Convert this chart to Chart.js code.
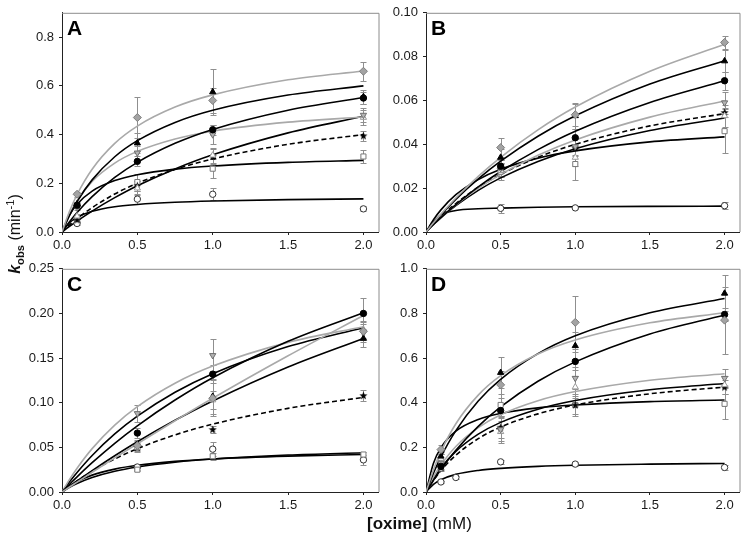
<!DOCTYPE html>
<html>
<head>
<meta charset="utf-8">
<script src="https://cdn.jsdelivr.net/npm/chart.js@4.4.1/dist/chart.umd.min.js"></script>
<style>
  body { margin:0; background:#fff; font-family:"Liberation Sans", Arial, sans-serif; }
  #wrap { position:relative; width:745px; height:541px; overflow:hidden; }
  canvas { position:absolute; }
  #ytitle { position:absolute; left:-50px; top:224px; width:120px; height:20px; line-height:20px;
            text-align:center; font-size:16px; color:#111; transform:rotate(-90deg); white-space:nowrap; }
  #ytitle sub, #ytitle sup { font-size:70%; }
  #xtitle { position:absolute; left:367px; top:514px; font-size:17px; color:#111; white-space:nowrap; }
</style>
</head>
<body>
<div id="wrap">
  <canvas id="cA" width="384" height="260" style="left:0;top:0"></canvas>
  <canvas id="cB" width="381" height="260" style="left:364px;top:0"></canvas>
  <canvas id="cC" width="384" height="285" style="left:0;top:256px"></canvas>
  <canvas id="cD" width="381" height="285" style="left:364px;top:256px"></canvas>
  <div id="ytitle"><b><i>k</i><sub>obs</sub></b> (min<sup>-1</sup>)</div>
  <div id="xtitle"><b>[oxime]</b> (mM)</div>
</div>
<script>
// x positions of the fitted curves
var xFit = [0, 0.05, 0.1, 0.2, 0.35, 0.5, 0.75, 1, 1.5, 2];
var xTicks = [0, 0.5, 1, 1.5, 2];

// series order: diamond, triangle, circle, inverted triangle, open triangle, star, open square, open circle

// panel A
var curvesA = [
  [0,0.085,0.154,0.258,0.364,0.435,0.513,0.563,0.625,0.661],
  [0,0.068,0.125,0.214,0.309,0.375,0.45,0.5,0.5625,0.6],
  [0,0.042,0.08,0.145,0.224,0.286,0.364,0.421,0.5,0.552],
  [0,0.072,0.128,0.208,0.283,0.331,0.382,0.414,0.451,0.472],
  [0,0.023,0.045,0.086,0.141,0.19,0.259,0.317,0.407,0.475],
  [0,0.029,0.055,0.1,0.156,0.2,0.257,0.3,0.36,0.4],
  [0,0.07,0.114,0.168,0.211,0.235,0.258,0.271,0.286,0.294],
  [0,0.038,0.06,0.085,0.104,0.113,0.122,0.127,0.133,0.136]
];
var xA = [0.1, 0.5, 1, 2];
var markA = [
  [0.155,0.47,0.54,0.66],
  [0.115,0.365,0.575,0.555],
  [0.11,0.29,0.42,0.55],
  [0.10,0.325,0.40,0.48],
  [0.065,0.18,0.315,0.47],
  [0.05,0.19,0.31,0.395],
  [0.055,0.205,0.26,0.31],
  [0.035,0.135,0.155,0.095]
];
var errA = [
  [0.01,0.085,0.05,0.04],
  [0.01,0.04,0.095,0.03],
  [0.01,0.02,0.02,0.025],
  [0.01,0.03,0.04,0.03],
  [0.01,0.03,0.03,0.03],
  [0.01,0.02,0.03,0.02],
  [0.01,0.035,0.04,0.025],
  [0.005,0.02,0.025,0.01]
];

// panel B
var curvesB = [
  [0,0.0042,0.0081,0.0155,0.0254,0.0341,0.0466,0.057,0.0733,0.0856],
  [0,0.0040,0.0078,0.0149,0.0242,0.0323,0.0437,0.053,0.0675,0.0781],
  [0,0.0034,0.0066,0.0125,0.0206,0.0276,0.0376,0.046,0.0591,0.069],
  [0,0.0034,0.0066,0.0124,0.0199,0.0263,0.035,0.042,0.0524,0.0598],
  [0,0.0034,0.0065,0.012,0.019,0.0247,0.0322,0.038,0.0463,0.052],
  [0,0.0037,0.0071,0.013,0.0204,0.0263,0.0341,0.04,0.0484,0.054],
  [0,0.0056,0.0101,0.017,0.0239,0.0286,0.0337,0.037,0.0411,0.0434],
  [0,0.0045,0.0078,0.0098,0.0106,0.0109,0.0113,0.0115,0.0117,0.0118]
];
var xB = [0.5, 1, 2];
var markB = [
  [0.0385,0.0535,0.0865],
  [0.034,0.053,0.078],
  [0.030,0.043,0.069],
  [0.029,0.039,0.059],
  [0.028,0.034,0.053],
  [0.0285,0.0385,0.0545],
  [0.0275,0.031,0.046],
  [0.0108,0.011,0.012]
];
var errB = [
  [0.0045,0.005,0.003],
  [0.004,0.006,0.005],
  [0.003,0.004,0.004],
  [0.004,0.004,0.005],
  [0.003,0.004,0.005],
  [0.003,0.004,0.002],
  [0.004,0.0075,0.01],
  [0.002,0.0007,0.0017]
];

// panel C
var curvesC = [
  [0,0.0056,0.0111,0.0221,0.0382,0.0541,0.0798,0.105,0.1526,0.1977],
  [0,0.0062,0.0123,0.024,0.0406,0.0563,0.0803,0.102,0.14,0.172],
  [0,0.0087,0.017,0.0328,0.0545,0.0741,0.103,0.128,0.1688,0.2009],
  [0,0.0141,0.0267,0.0486,0.0749,0.0956,0.1218,0.141,0.1676,0.1851],
  [0,0.0114,0.0219,0.0409,0.065,0.0849,0.1117,0.1325,0.1629,0.184],
  [0,0.0065,0.0125,0.0233,0.0371,0.0485,0.064,0.076,0.0937,0.106],
  [0,0.0067,0.0118,0.0189,0.0256,0.0299,0.0343,0.037,0.0402,0.042],
  [0,0.0053,0.0096,0.0163,0.0233,0.028,0.0334,0.037,0.0414,0.044]
];
var xC = [0.5, 1, 2];
var markC = [
  [0.052,0.105,0.180],
  [0.053,0.107,0.172],
  [0.066,0.132,0.200],
  [0.088,0.153,0.178],
  [0.05,0.103,0.182],
  [0.05,0.07,0.108],
  [0.025,0.040,0.042],
  [0.028,0.048,0.036]
];
var errC = [
  [0.005,0.02,0.01],
  [0.005,0.02,0.01],
  [0.006,0.01,0.017],
  [0.01,0.018,0.01],
  [0.005,0.01,0.01],
  [0.004,0.004,0.006],
  [0.002,0.004,0.003],
  [0.003,0.008,0.006]
];

// panel D
var curvesD = [
  [0,0.1,0.181,0.306,0.434,0.521,0.618,0.681,0.758,0.803],
  [0,0.084,0.157,0.275,0.408,0.505,0.62,0.7,0.803,0.867],
  [0,0.0527,0.101,0.187,0.294,0.381,0.496,0.583,0.708,0.793],
  [0,0.067,0.121,0.204,0.288,0.346,0.409,0.45,0.501,0.53],
  [0,0.059,0.108,0.182,0.259,0.312,0.371,0.41,0.458,0.486],
  [0,0.052,0.096,0.165,0.239,0.291,0.35,0.39,0.44,0.47],
  [0,0.129,0.199,0.273,0.325,0.352,0.377,0.39,0.405,0.412],
  [0,0.0345,0.0552,0.0789,0.0966,0.106,0.115,0.12,0.125,0.128]
];
var xD = [0.1, 0.2, 0.5, 1, 2];
var markD = [
  [0.19,null,0.48,0.76,0.77],
  [0.16,null,0.535,0.655,0.89],
  [0.115,null,0.365,0.585,0.795],
  [0.13,null,0.28,0.51,0.51],
  [0.15,null,0.27,0.47,0.48],
  [0.11,null,0.29,0.39,0.47],
  [0.105,null,0.39,0.39,0.395],
  [0.045,0.065,0.135,0.125,0.11]
];
var errD = [
  [0.02,0,0.06,0.12,0.15],
  [0.02,0,0.07,0.06,0.08],
  [0.01,0,0.03,0.04,0.03],
  [0.01,0,0.05,0.05,0.04],
  [0.02,0,0.05,0.05,0.04],
  [0.01,0,0.05,0.05,0.03],
  [0.01,0,0.05,0.04,0.07],
  [0.005,0.005,0.01,0.01,0.01]
];

var FONT = '"Liberation Sans", Arial, sans-serif';

function starImg() {
  var c = document.createElement('canvas');
  c.width = c.height = 9;
  var g = c.getContext('2d');
  g.beginPath();
  for (var i = 0; i < 10; i++) {
    var r = i % 2 ? 1.8 : 4.3;
    var a = -Math.PI / 2 + i * Math.PI / 5;
    g.lineTo(4.5 + r * Math.cos(a), 4.8 + r * Math.sin(a));
  }
  g.closePath();
  g.fillStyle = '#000';
  g.fill();
  return c;
}
var STAR = starImg();

// look of each series: curve colour / dash, marker shape
var curveColor = ['#a9a9a9','#000','#000','#a9a9a9','#000','#000','#000','#000'];
var curveDash = [[],[],[],[],[],[5,3],[],[]];
var markStyle = [
  {ps:'rectRot', r:4, bg:'#a3a3a3', bc:'#7d7d7d', rot:0},
  {ps:'triangle', r:3.6, bg:'#000', bc:'#000', rot:0},
  {ps:'circle', r:3.2, bg:'#000', bc:'#000', rot:0},
  {ps:'triangle', r:3.6, bg:'#b3b3b3', bc:'#6e6e6e', rot:180},
  {ps:'triangle', r:3.6, bg:'#fff', bc:'#9a9a9a', rot:0},
  {ps:STAR, r:4.5, bg:'#000', bc:'#000', rot:0},
  {ps:'rect', r:3.6, bg:'#fff', bc:'#777', rot:0},
  {ps:'circle', r:3.2, bg:'#fff', bc:'#333', rot:0}
];

var errPlugin = {
  id: 'errbars',
  beforeDatasetsDraw: function(chart) {
    var ctx = chart.ctx, xs = chart.scales.x, ys = chart.scales.y;
    ctx.save();
    ctx.strokeStyle = '#8f8f8f';
    ctx.lineWidth = 1;
    chart.data.datasets.forEach(function(ds) {
      if (!ds.errs) return;
      ds.data.forEach(function(p, i) {
        var e = ds.errs[i];
        if (p.y == null || !e) return;
        var px = Math.round(xs.getPixelForValue(p.x)) + 0.5;
        var y1 = Math.round(ys.getPixelForValue(p.y + e)) + 0.5;
        var y2 = Math.round(ys.getPixelForValue(p.y - e)) + 0.5;
        ctx.beginPath();
        ctx.moveTo(px, y1); ctx.lineTo(px, y2);
        ctx.moveTo(px - 3, y1); ctx.lineTo(px + 3, y1);
        ctx.moveTo(px - 3, y2); ctx.lineTo(px + 3, y2);
        ctx.stroke();
      });
    });
    ctx.restore();
  }
};

var framePlugin = {
  id: 'frame',
  afterDraw: function(chart) {
    var a = chart.chartArea, ctx = chart.ctx;
    ctx.save();
    ctx.strokeStyle = '#8c8c8c';
    ctx.lineWidth = 1;
    ctx.beginPath();
    ctx.moveTo(a.left, a.top + 0.5); ctx.lineTo(a.right + 0.5, a.top + 0.5);
    ctx.lineTo(a.right + 0.5, a.bottom);
    ctx.stroke();
    ctx.fillStyle = '#000';
    ctx.font = 'bold 21px ' + FONT;
    ctx.textBaseline = 'alphabetic';
    ctx.fillText(chart.options.plugins.frame.letter, a.left + 5, a.top + 22);
    ctx.restore();
  }
};

function makePanel(id, letter, curves, xs, marks, errs, yMax, yTicks, yDec, padTop, xH) {
  var datasets = [];
  marks.forEach(function(ys, k) {
    var st = markStyle[k];
    datasets.push({
      data: xs.map(function(x, i) { return {x: x, y: ys[i]}; }),
      errs: errs[k],
      showLine: false,
      pointStyle: st.ps,
      pointRadius: st.r,
      pointRotation: st.rot,
      pointBackgroundColor: st.bg,
      pointBorderColor: st.bc,
      pointBorderWidth: 1,
      order: 0
    });
  });
  curves.forEach(function(ys, k) {
    datasets.push({
      data: xFit.map(function(x, i) { return {x: x, y: ys[i]}; }),
      showLine: true,
      borderColor: curveColor[k],
      borderWidth: 1.6,
      borderDash: curveDash[k],
      pointRadius: 0,
      cubicInterpolationMode: 'monotone',
      order: 1
    });
  });

  new Chart(document.getElementById(id), {
    type: 'scatter',
    data: { datasets: datasets },
    options: {
      responsive: false,
      animation: false,
      devicePixelRatio: 1,
      layout: { padding: { top: padTop, right: 2, left: 0, bottom: 0 } },
      plugins: { legend: { display: false }, tooltip: { enabled: false }, frame: { letter: letter } },
      scales: {
        x: {
          type: 'linear', min: 0, max: 2.1,
          afterBuildTicks: function(s) { s.ticks = xTicks.map(function(v) { return {value: v}; }); },
          afterFit: function(s) { s.height = xH; },
          ticks: { callback: function(v) { return v.toFixed(1); }, font: { size: 13, family: FONT }, color: '#1a1a1a', padding: 3, maxRotation: 0, autoSkip: false },
          grid: { display: true, drawOnChartArea: false, drawTicks: true, tickLength: 3, color: '#222' },
          border: { display: true, color: '#222', width: 1 }
        },
        y: {
          type: 'linear', min: 0, max: yMax,
          afterBuildTicks: function(s) { s.ticks = yTicks.map(function(v) { return {value: v}; }); },
          afterFit: function(s) { s.width = 62; },
          ticks: { callback: function(v) { return v.toFixed(yDec); }, font: { size: 13, family: FONT }, color: '#1a1a1a', padding: 5, autoSkip: false },
          grid: { display: true, drawOnChartArea: false, drawTicks: true, tickLength: 3, color: '#222' },
          border: { display: true, color: '#222', width: 1 }
        }
      }
    },
    plugins: [errPlugin, framePlugin]
  });
}

makePanel('cA', 'A', curvesA, xA, markA, errA, 0.9, [0, 0.2, 0.4, 0.6, 0.8], 1, 7, 28);
makePanel('cB', 'B', curvesB, xB, markB, errB, 0.1, [0, 0.02, 0.04, 0.06, 0.08, 0.1], 2, 7, 28);
makePanel('cC', 'C', curvesC, xC, markC, errC, 0.25, [0, 0.05, 0.1, 0.15, 0.2, 0.25], 2, 11, 49);
makePanel('cD', 'D', curvesD, xD, markD, errD, 1.0, [0, 0.2, 0.4, 0.6, 0.8, 1.0], 1, 11, 49);
</script>
</body>
</html>
